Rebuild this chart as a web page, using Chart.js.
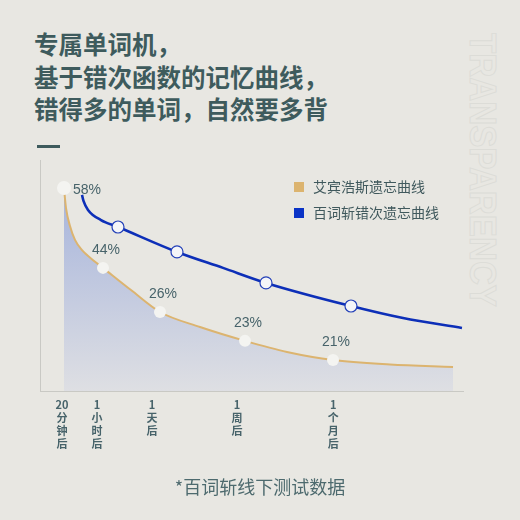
<!DOCTYPE html>
<html lang="zh-CN">
<head>
<meta charset="utf-8">
<script src="https://cdn.jsdelivr.net/npm/chart.js@4.4.1/dist/chart.umd.min.js"></script>
<style>
  html, body { margin: 0; padding: 0; }
  body { width: 520px; height: 520px; background: #e8e7e2; position: relative; overflow: hidden; font-family: "Noto Sans CJK SC", sans-serif; }
  #title { position: absolute; left: 34px; top: 28px; font-size: 24.5px; font-weight: bold; line-height: 32.5px; color: #3e5b5d; white-space: nowrap; }
  #dash { position: absolute; left: 37px; top: 145px; width: 23px; height: 3px; background: #3e5b5d; }
  #note { position: absolute; left: 0; width: 520px; top: 474px; text-align: center; font-size: 18px; line-height: 24px; color: #4d6a6e; }
  #mark, #chart { position: absolute; left: 0; top: 0; }
</style>
</head>
<body>
<div id="title">专属单词机，<br>基于错次函数的记忆曲线，<br>错得多的单词，自然要多背</div>
<div id="dash"></div>
<svg id="mark" width="520" height="520">
  <text x="33" y="-470" transform="rotate(90)" textLength="274" lengthAdjust="spacingAndGlyphs"
        font-family="Liberation Sans" font-weight="bold" font-size="37"
        fill="none" stroke="#dcdcd7" stroke-width="1">TRANSPARENCY</text>
</svg>
<canvas id="chart" width="520" height="520"></canvas>
<div id="note">*百词斩线下测试数据</div>

<script>
// series names
const seriesNames = ['艾宾浩斯遗忘曲线', '百词斩错次遗忘曲线'];

// x axis: time after learning (ticks placed where the labels sit)
const tickPos = [5.2, 13.5, 26.5, 46.6, 69.3];
const tickLabels = [
    ['20', '分', '钟', '后'],
    ['1', '小', '时', '后'],
    ['1', '天', '后'],
    ['1', '周', '后'],
    ['1', '个', '月', '后']
];

// Ebbinghaus curve, labelled points carry a percentage
const ebbX = [5.67, 6.15, 7.09, 8.27, 9.93, 12.06, 14.89, 21.51, 28.37, 37.83, 48.46, 58.39, 69.27, 82.74, 97.64];
const ebbY = [87.9, 79.2, 71.4, 65.4, 61.0, 57.4, 53.3, 43.7, 34.2, 27.7, 21.7, 16.9, 13.4, 11.5, 10.4];
const ebbPct = ['58%', '', '', '', '', '', '44%', '', '26%', '', '23%', '', '21%', '', ''];

// Baicizhan curve, 1 = marked point
const bczX = [9.93, 10.28, 11.35, 14.42, 18.44, 32.39, 43.26, 53.43, 73.52, 85.82, 99.76];
const bczY = [84.9, 82.3, 78.4, 74.0, 71.0, 60.2, 53.3, 46.8, 36.8, 31.6, 27.3];
const bczDot = [0, 0, 0, 0, 1, 1, 0, 1, 1, 0, 0];

const ORANGE = '#dcb46f';
const BLUE = '#0d2fb8';
const TEXT = '#47636a';
const AXIS = '#c9c9c4';

document.addEventListener('DOMContentLoaded', function() {
    const ctx = document.getElementById('chart').getContext('2d');

    // percentage labels over the orange points
    const pctLabels = {
        id: 'pctLabels',
        afterDatasetsDraw(chart) {
            const c = chart.ctx;
            const meta = chart.getDatasetMeta(0);
            c.save();
            c.font = '14px "Liberation Sans", Arial, sans-serif';
            c.fillStyle = TEXT;
            c.textBaseline = 'middle';
            meta.data.forEach((pt, i) => {
                if (!ebbPct[i]) return;
                if (i === 0) {
                    c.textAlign = 'left';
                    c.fillText(ebbPct[i], pt.x + 9, pt.y + 2);
                } else {
                    c.textAlign = 'center';
                    c.fillText(ebbPct[i], pt.x + 3, pt.y - 18);
                }
            });
            c.restore();
        }
    };

    // legend in the upper right of the plot
    const boxLegend = {
        id: 'boxLegend',
        afterDraw(chart) {
            const c = chart.ctx;
            const cols = [ORANGE, '#0a33c6'];
            c.save();
            c.font = '14px "Noto Sans CJK SC", sans-serif';
            c.textBaseline = 'middle';
            c.textAlign = 'left';
            seriesNames.forEach((name, i) => {
                const y = 187 + i * 26;
                c.fillStyle = cols[i];
                c.fillRect(294, y - 5, 10, 10);
                c.fillStyle = '#40595d';
                c.fillText(name, 313, y);
            });
            c.restore();
        }
    };

    const chart = new Chart(ctx, {
        type: 'line',
        data: {
            datasets: [{
                label: seriesNames[0],
                data: ebbX.map((x, i) => ({ x: x, y: ebbY[i] })),
                borderColor: ORANGE,
                borderWidth: 2,
                cubicInterpolationMode: 'monotone',
                fill: 'start',
                backgroundColor: function(context) {
                    const area = context.chart.chartArea;
                    if (!area) return 'rgba(0,0,0,0)';
                    const g = context.chart.ctx.createLinearGradient(0, area.top, 0, area.bottom);
                    g.addColorStop(0, '#9dacda');
                    g.addColorStop(0.25, '#aebadd');
                    g.addColorStop(1, '#dedfe3');
                    return g;
                },
                pointRadius: c => ebbPct[c.dataIndex] ? (c.dataIndex === 0 ? 7 : 6) : 0,
                pointBackgroundColor: '#f4f4f1',
                pointBorderWidth: 0
            }, {
                label: seriesNames[1],
                data: bczX.map((x, i) => ({ x: x, y: bczY[i] })),
                borderColor: BLUE,
                borderWidth: 2.6,
                cubicInterpolationMode: 'monotone',
                fill: false,
                pointRadius: c => bczDot[c.dataIndex] ? 6 : 0,
                pointBackgroundColor: '#f4f5f8',
                pointBorderColor: '#2340b8',
                pointBorderWidth: 1.2
            }]
        },
        options: {
            responsive: false,
            animation: false,
            layout: { padding: { left: 40, right: 57, top: 160, bottom: 0 } },
            scales: {
                x: {
                    type: 'linear',
                    min: 0,
                    max: 100,
                    grid: { display: false, drawTicks: false },
                    border: { color: AXIS, width: 1 },
                    afterBuildTicks: s => { s.ticks = tickPos.map(v => ({ value: v })); },
                    afterFit: s => { s.height = 129; },
                    ticks: {
                        autoSkip: false,
                        maxRotation: 0,
                        minRotation: 0,
                        padding: 7,
                        color: TEXT,
                        font: { family: '"Noto Sans CJK SC", sans-serif', size: 11, weight: 'bold', lineHeight: 1.2 },
                        callback: (v, i) => tickLabels[i]
                    }
                },
                y: {
                    min: 0,
                    max: 100,
                    grid: { display: false, drawTicks: false },
                    border: { color: AXIS, width: 1 },
                    ticks: { display: false },
                    afterFit: s => { s.width = 0; }
                }
            },
            plugins: {
                legend: { display: false },
                tooltip: { enabled: false }
            }
        },
        plugins: [pctLabels, boxLegend]
    });
});
</script>
</body>
</html>
